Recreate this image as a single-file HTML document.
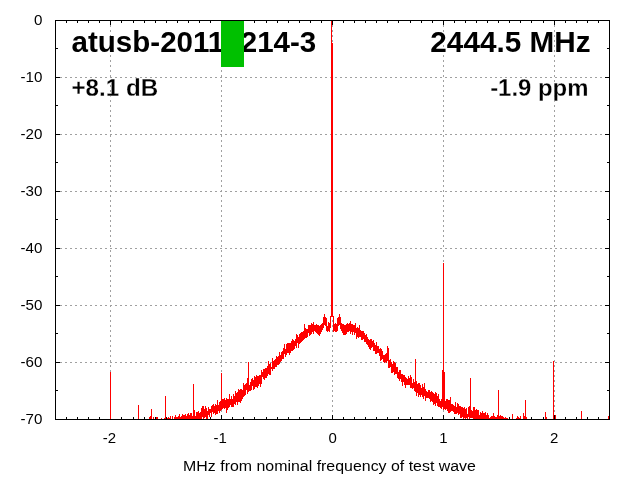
<!DOCTYPE html>
<html><head><meta charset="utf-8"><title>atusb-20110214-3</title>
<style>
html,body{margin:0;padding:0;background:#fff;}
body{width:640px;height:480px;overflow:hidden;}
svg{display:block;}
text{font-family:"Liberation Sans",Arial,sans-serif;fill:#000;}
.b{font-weight:bold;}
.t{stroke:#fff;stroke-width:0.25px;}
</style></head><body>
<svg width="640" height="480" viewBox="0 0 640 480">
<rect width="640" height="480" fill="#fff"/>
<path d="M110.5 20V419M221.5 20V419M332.5 20V419M443.5 20V419M554.5 20V419M55 77.5H609M55 134.5H609M55 191.5H609M55 248.5H609M55 305.5H609M55 362.5H609" stroke="#a0a0a0" stroke-width="1" stroke-dasharray="2 3" fill="none" shape-rendering="crispEdges"/>
<path d="M66.5 419v-2M66.5 21v2M77.5 419v-2M77.5 21v2M88.5 419v-2M88.5 21v2M99.5 419v-2M99.5 21v2M110.5 419v-4M110.5 21v4M121.5 419v-2M121.5 21v2M133.5 419v-2M133.5 21v2M144.5 419v-2M144.5 21v2M155.5 419v-2M155.5 21v2M166.5 419v-2M166.5 21v2M177.5 419v-2M177.5 21v2M188.5 419v-2M188.5 21v2M199.5 419v-2M199.5 21v2M210.5 419v-2M210.5 21v2M221.5 419v-4M221.5 21v4M232.5 419v-2M232.5 21v2M243.5 419v-2M243.5 21v2M254.5 419v-2M254.5 21v2M266.5 419v-2M266.5 21v2M277.5 419v-2M277.5 21v2M288.5 419v-2M288.5 21v2M299.5 419v-2M299.5 21v2M310.5 419v-2M310.5 21v2M321.5 419v-2M321.5 21v2M332.5 419v-4M332.5 21v4M343.5 419v-2M343.5 21v2M354.5 419v-2M354.5 21v2M365.5 419v-2M365.5 21v2M376.5 419v-2M376.5 21v2M387.5 419v-2M387.5 21v2M398.5 419v-2M398.5 21v2M410.5 419v-2M410.5 21v2M421.5 419v-2M421.5 21v2M432.5 419v-2M432.5 21v2M443.5 419v-4M443.5 21v4M454.5 419v-2M454.5 21v2M465.5 419v-2M465.5 21v2M476.5 419v-2M476.5 21v2M487.5 419v-2M487.5 21v2M498.5 419v-2M498.5 21v2M509.5 419v-2M509.5 21v2M520.5 419v-2M520.5 21v2M531.5 419v-2M531.5 21v2M543.5 419v-2M543.5 21v2M554.5 419v-4M554.5 21v4M565.5 419v-2M565.5 21v2M576.5 419v-2M576.5 21v2M587.5 419v-2M587.5 21v2M598.5 419v-2M598.5 21v2M56 48.5h2M609 48.5h-2M56 77.5h4M609 77.5h-4M56 105.5h2M609 105.5h-2M56 134.5h4M609 134.5h-4M56 162.5h2M609 162.5h-2M56 191.5h4M609 191.5h-4M56 219.5h2M609 219.5h-2M56 248.5h4M609 248.5h-4M56 276.5h2M609 276.5h-2M56 305.5h4M609 305.5h-4M56 333.5h2M609 333.5h-2M56 362.5h4M609 362.5h-4M56 390.5h2M609 390.5h-2" stroke="#000" stroke-width="1" fill="none" shape-rendering="crispEdges"/>
<g class="ax"><text transform="translate(42.4 25) scale(0.99 1)" font-size="15.3" text-anchor="end">0</text><text transform="translate(42.4 82) scale(0.99 1)" font-size="15.3" text-anchor="end">-10</text><text transform="translate(42.4 139) scale(0.99 1)" font-size="15.3" text-anchor="end">-20</text><text transform="translate(42.4 196) scale(0.99 1)" font-size="15.3" text-anchor="end">-30</text><text transform="translate(42.4 253) scale(0.99 1)" font-size="15.3" text-anchor="end">-40</text><text transform="translate(42.4 310) scale(0.99 1)" font-size="15.3" text-anchor="end">-50</text><text transform="translate(42.4 367) scale(0.99 1)" font-size="15.3" text-anchor="end">-60</text><text transform="translate(42.4 424) scale(0.99 1)" font-size="15.3" text-anchor="end">-70</text><text transform="translate(109.4 443) scale(0.98 1)" font-size="15.3" text-anchor="middle">-2</text><text transform="translate(220.2 443) scale(0.98 1)" font-size="15.3" text-anchor="middle">-1</text><text transform="translate(332.6 443) scale(0.98 1)" font-size="15.3" text-anchor="middle">0</text><text transform="translate(443.40000000000003 443) scale(0.98 1)" font-size="15.3" text-anchor="middle">1</text><text transform="translate(554.2 443) scale(0.98 1)" font-size="15.3" text-anchor="middle">2</text>
<text transform="translate(329.5 471) scale(1.041 1)" font-size="15.3" text-anchor="middle">MHz from nominal frequency of test wave</text></g>
<text class="b" transform="translate(71.5 52) scale(1.008 1)" font-size="29.33">atusb-20110214-3</text>
<text class="b t" transform="translate(71.5 96) scale(1.008 1)" font-size="24">+8.1 dB</text>
<text class="b" transform="translate(590.5 52) scale(1.013 1)" font-size="29.33" text-anchor="end">2444.5 MHz</text>
<text class="b t" transform="translate(588.5 96) scale(0.997 1)" font-size="24" text-anchor="end">-1.9 ppm</text>
<path d="M110.5 372V419M138.5 405V419M149.5 417V419M150.5 416V419M151.5 409V419M153.5 417V419M156.5 417V419M157.5 417V419M161.5 418V419M164.5 418V419M165.5 396V419M167.5 418V419M168.5 417V419M169.5 418V419M170.5 416V419M172.5 416V419M174.5 417V419M175.5 415V419M176.5 417V419M177.5 417V419M178.5 416V419M179.5 414V419M180.5 417V419M181.5 416V419M182.5 414V419M183.5 415V419M184.5 415V419M185.5 414V419M186.5 416V419M187.5 414V419M188.5 413V419M189.5 415V419M190.5 413V419M191.5 413V419M192.5 416V419M193.5 384V419M194.5 410V419M195.5 416V419M196.5 412V419M197.5 412V419M198.5 411V419M199.5 413V419M200.5 412V419M201.5 408V419M202.5 406V417M203.5 406V419M204.5 409V418M205.5 406V417M206.5 408V419M207.5 411V419M208.5 407V415M209.5 409V417M210.5 409V413M211.5 406V417M212.5 405V412M213.5 404V414M214.5 406V413M215.5 404V415M216.5 405V414M217.5 400V414M218.5 405V411M219.5 402V413M220.5 401V411M221.5 373V410M222.5 399V409M223.5 399V408M224.5 398V409M225.5 400V408M226.5 398V413M227.5 399V410M228.5 399V408M229.5 394V407M230.5 399V405M231.5 396V407M232.5 399V407M233.5 394V407M234.5 396V404M235.5 391V405M236.5 393V402M237.5 392V405M238.5 389V402M239.5 390V402M240.5 389V403M241.5 389V401M242.5 390V399M243.5 383V397M244.5 385V396M245.5 384V395M246.5 383V390M247.5 378V394M248.5 362V392M249.5 385V391M250.5 382V391M251.5 379V390M252.5 378V386M253.5 380V390M254.5 376V389M255.5 377V387M256.5 375V387M257.5 376V388M258.5 376V386M259.5 375V384M260.5 375V387M261.5 370V384M262.5 372V377M263.5 369V379M264.5 369V380M265.5 368V378M266.5 368V378M267.5 366V376M268.5 361V374M269.5 364V375M270.5 363V375M271.5 367V369M272.5 358V371M273.5 361V369M274.5 360V369M275.5 359V367M276.5 356V367M277.5 357V365M278.5 356V365M279.5 352V364M280.5 355V362M281.5 352V361M282.5 351V359M283.5 348V359M284.5 344V354M285.5 349V357M286.5 344V355M287.5 343V353M288.5 343V353M289.5 343V355M290.5 343V353M291.5 341V351M292.5 339V351M293.5 340V350M294.5 341V349M295.5 339V346M296.5 334V348M297.5 335V343M298.5 337V348M299.5 334V344M300.5 333V343M301.5 332V342M302.5 332V341M303.5 331V340M304.5 324V339M305.5 328V338M306.5 329V338M307.5 329V337M308.5 325V333M309.5 325V336M310.5 325V335M311.5 323V334M312.5 324V332M313.5 322V334M314.5 325V331M315.5 325V332M316.5 324V333M317.5 325V334M318.5 325V335M319.5 326V336M320.5 325V334M321.5 324V332M322.5 323V330M323.5 317V328M324.5 314V325M325.5 317V326M326.5 318V331M327.5 326V332M328.5 322V331M329.5 323V332M330.5 316V328M331.5 21V317M332.5 43V317M333.5 316V332M334.5 324V331M335.5 323V332M336.5 324V332M337.5 318V331M338.5 317V326M339.5 314V325M340.5 317V329M341.5 323V331M342.5 324V333M343.5 324V335M344.5 325V335M345.5 325V335M346.5 324V334M347.5 323V332M348.5 324V332M349.5 323V331M350.5 321V334M351.5 324V332M352.5 324V335M353.5 325V332M354.5 325V335M355.5 323V333M356.5 328V339M357.5 327V337M358.5 328V338M359.5 325V337M360.5 330V337M361.5 331V340M362.5 331V340M363.5 331V339M364.5 333V342M365.5 335V342M366.5 334V344M367.5 337V345M368.5 339V347M369.5 340V349M370.5 339V350M371.5 339V348M372.5 341V347M373.5 340V351M374.5 343V351M375.5 345V354M376.5 342V354M377.5 346V353M378.5 346V353M379.5 349V356M380.5 348V361M381.5 349V360M382.5 351V359M383.5 355V362M384.5 355V363M385.5 354V362M386.5 353V363M387.5 346V361M388.5 348V368M389.5 360V368M390.5 359V367M391.5 362V373M392.5 364V373M393.5 361V372M394.5 362V375M395.5 363V374M396.5 367V374M397.5 367V378M398.5 372V379M399.5 370V381M400.5 370V379M401.5 374V382M402.5 374V386M403.5 375V382M404.5 375V385M405.5 377V388M406.5 378V385M407.5 379V385M408.5 376V385M409.5 378V385M410.5 375V388M411.5 377V388M412.5 383V389M413.5 379V388M414.5 382V391M415.5 359V392M416.5 381V396M417.5 384V393M418.5 383V397M419.5 383V395M420.5 385V397M421.5 388V395M422.5 384V397M423.5 387V399M424.5 383V396M425.5 389V401M426.5 391V398M427.5 392V398M428.5 390V398M429.5 390V399M430.5 392V402M431.5 391V401M432.5 392V402M433.5 393V405M434.5 394V404M435.5 392V406M436.5 393V403M437.5 396V406M438.5 394V407M439.5 399V407M440.5 401V408M441.5 399V409M442.5 370V407M443.5 263V410M444.5 372V409M445.5 401V410M446.5 399V409M447.5 399V411M448.5 400V413M449.5 400V413M450.5 397V412M451.5 404V411M452.5 404V411M453.5 405V412M454.5 406V414M455.5 402V414M456.5 407V414M457.5 403V413M458.5 404V415M459.5 406V414M460.5 406V418M461.5 407V418M462.5 407V417M463.5 408V419M464.5 407V418M465.5 409V419M466.5 408V418M467.5 414V419M468.5 407V417M469.5 406V419M470.5 378V418M471.5 410V418M472.5 411V418M473.5 407V419M474.5 407V419M475.5 410V419M476.5 409V419M477.5 410V419M478.5 410V419M479.5 415V419M480.5 412V419M481.5 413V419M482.5 411V419M483.5 413V419M484.5 413V419M485.5 412V419M486.5 415V419M487.5 413V419M488.5 415V419M489.5 418V419M490.5 417V419M491.5 416V419M492.5 416V419M493.5 413V419M494.5 416V419M495.5 417V419M496.5 417V419M497.5 415V419M498.5 390V419M499.5 416V419M500.5 415V419M501.5 416V419M502.5 416V419M503.5 417V419M504.5 418V419M505.5 417V419M506.5 418V419M507.5 418V419M512.5 414V419M516.5 418V419M517.5 416V419M518.5 417V419M519.5 418V419M520.5 416V419M523.5 413V419M524.5 416V419M525.5 400V419M526.5 417V419M545.5 412V419M546.5 417V419M553.5 361V419M555.5 415V419M581.5 411V419M608.5 416V419" stroke="#ff0000" stroke-width="1" fill="none" shape-rendering="crispEdges"/>
<rect x="221" y="20" width="23" height="47" fill="#00c000" shape-rendering="crispEdges"/>
<rect x="55.5" y="20.5" width="554" height="399" fill="none" stroke="#000" stroke-width="1" shape-rendering="crispEdges"/>
</svg>
</body></html>
